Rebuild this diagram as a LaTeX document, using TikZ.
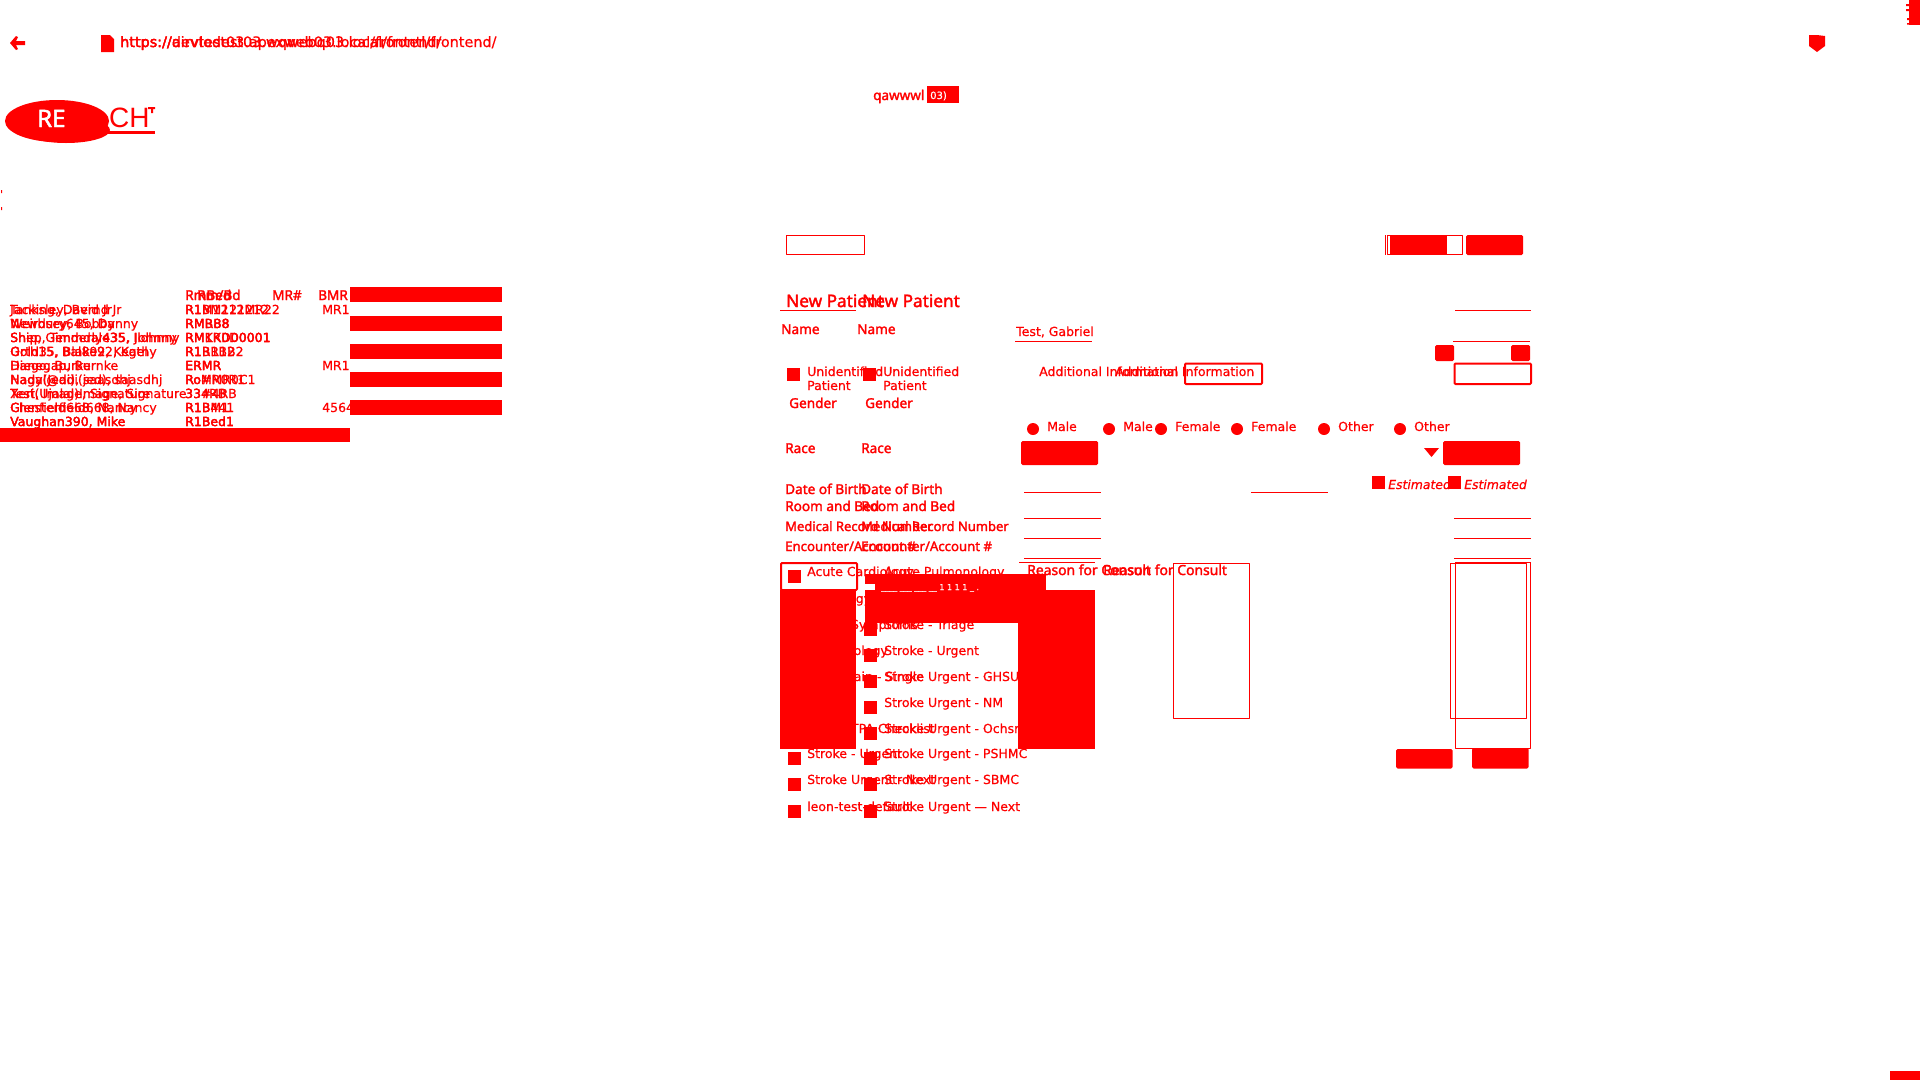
\documentclass[tikz,border=0pt]{standalone}
\usepackage{fontspec}
\setmainfont{DejaVu Sans}[FakeBold=0.7]
\newfontfamily\boldui{Noto Sans}[FakeBold=2]
\tikzset{
  txt/.style={anchor=base west,inner sep=0pt,text=red,font=\fontsize{12.5}{14}\selectfont},
  bld/.style={anchor=base west,inner sep=0pt,text=red,font=\fontsize{13.6}{15}\boldui},
  rule/.style={draw=red,line width=1pt},
  boxln/.style={draw=red,line width=1pt,fill=none},
  boxth/.style={draw=red,line width=2pt,fill=none,rounded corners=1pt},
  btn/.style={fill=red,rounded corners=1.5pt}
}
\begin{document}
\begin{tikzpicture}[x=1pt,y=-1pt,line join=round]
    \useasboundingbox (0,0) rectangle (1920,1080);
    \fill[red] (25,41)--(16,41)--(18,37)--(16,36)--(10,43)--(16,50)--(18,49)--(16,45)--(25,45)--cycle;
    \fill[red] (101,35)--(110,35)--(114,39)--(114,52)--(101,52)--cycle;
    \node[txt,font=\fontsize{14.4}{16}\selectfont] (urla) at (120,47) {https://devtest03.apexweb03.local/frontend/};
    \node[txt,font=\fontsize{14.4}{16}\selectfont] (urlb) at (120,47) {https://airvlodest03.wqwebq03.local/frontl/frontend/};
    \fill[red] (1809,35)--(1817,35)--(1825,36)--(1825,46)--(1817,52)--(1809,46)--cycle;
    \fill[red] (1909,0) rectangle (1920,25);
    \fill[red] (1906,4) rectangle (1909,6) (1906,9) rectangle (1909,11) (1907,18) rectangle (1909,20) (1907,23) rectangle (1909,24.5);
    \fill[red] (1890,1071) rectangle (1920,1080);
    \fill[red] (1,190) rectangle (2,193) (1,207) rectangle (2,210);
    \node[bld,font=\fontsize{13.5}{15}\boldui] (appname) at (873,100) {qawwwl};
    \fill[red] (927,86) rectangle (959,103);
    \node[txt,text=white,font=\fontsize{10}{12}\selectfont] (appver) at (930,99) {03)};
    \fill[red] (57,121) ellipse (52 and 21);
    \fill[red] (66,130) ellipse (44 and 13);
    \node[bld,text=white,font=\fontsize{24}{26}\boldui] (logore) at (37,127) {RE};
    \node[txt,font=\fontsize{28}{30}\fontspec{Liberation Sans}] (logoch) at (109,127) {CH};
    \fill[red] (148,107) rectangle (155,109) (151,107) rectangle (153,113);
    \fill[red] (85,131) rectangle (155,133.5);
    \foreach \y/\na/\nb/\ra/\rb in {
      314/{Jacking, David Jr}/{Tanksley, Bernd Jr}/{R1BM121212}/{R1M1212MR22},
      328/{Newbury645, Danny}/{Weirdsey, Bobby}/{RMR88}/{RMBB8},
      342/{Shep, Tenderly435, Johnny}/{Ship, Gimmdale35, Ilohnny}/{RM1R0D0001}/{RMKKD00001},
      356/{Gold35, Blake92, Kathy}/{Orth15, Bal892, Kegel}/{R1BR1B2}/{R1R1B2},
      370/{Diego, Burke}/{Hanegap, Burnke}/{ERMR}/{ERMR},
      384/{Nagy(Jedi), saasdhj}/{Hadal@adi(jed), saasdhj}/{RoMR0R1}/{Ro\#MR0C1},
      398/{Test, Image, Signature}/{Xeri(Ujalal)Image, Signature}/{334RB}/{33\#4RB},
      412/{Chesterfield668, Nancy}/{Glenfield668, Nancy}/{R1BM1}/{R1B441},
      426/{Vaughan390, Mike}/{Vaughan390, Mike}/{R1Bed1}/{R1Bed1}}{
      \node[txt] (na\y) at (10,\y) {\na};
      \node[txt] (nb\y) at (10,\y) {\nb};
      \node[txt] (ra\y) at (185,\y) {\ra};
      \node[txt] (rb\y) at (185,\y) {\rb};
    }
    \node[bld] (rma) at (185,300) {RmBed};
    \node[bld] (rmb) at (197,300) {Rm/Bd};
    \node[bld] (mra) at (272,300) {MR\#};
    \node[bld] (mrb) at (318,300) {BMR};
    \node[txt] (mra1) at (322,314) {MR1};
    \node[txt] (mra2) at (322,370) {MR1};
    \node[txt] (num1) at (322,412) {4564};
    \foreach \y in {287,316,344,372,400}
      \fill[red] (350,\y) rectangle (502,\y+14.5);
    \fill[red] (0,428) rectangle (350,442);
    \draw[boxln] (786.5,235.5) rectangle (864,254.5);
    \draw[boxln] (1387,235.5) rectangle (1462.5,254.5);
    \fill[red] (1390,235) rectangle (1447,255);
    \fill[red] (1385,235) rectangle (1386,255);
    \fill[btn] (1466,235) rectangle (1523,255);
    \foreach \o in {0,76}{
      \node[bld,font=\fontsize{17.2}{19}\boldui] (newpat\o) at (786+\o,307) {New Patient};
      \node[bld] (name\o) at (781+\o,334) {Name};
      \node[bld] (gender\o) at (789+\o,408) {Gender};
      \node[bld] (race\o) at (785+\o,453) {Race};
      \node[bld] (dob\o) at (785+\o,494) {Date of Birth};
      \node[bld] (room\o) at (785+\o,511) {Room and Bed};
      \node[bld,font=\fontsize{13}{15}\boldui] (mrn\o) at (785+\o,531) {Medical Record Number};
      \node[bld,font=\fontsize{13.2}{15}\boldui] (enc\o) at (785+\o,551) {Encounter/Account \#};
      \fill[red] (787+\o,368) rectangle (800+\o,381);
      \node[txt] (unid\o) at (807+\o,376) {Unidentified};
      \node[txt] (unpa\o) at (807+\o,390) {Patient};
      \node[txt] (addl\o) at (1039+\o,376) {Additional Information};
      \node[bld,font=\fontsize{13.9}{15}\boldui] (reason\o) at (1027+\o,575) {Reason for Consult};
      \fill[red] (1372+\o,476) rectangle (1385+\o,489);
      \node[txt,font=\fontsize{12.4}{14}\selectfont\itshape] (est\o) at (1388+\o,489) {Estimated};
      \fill[btn] (1435+\o,345) rectangle (1454+\o,361);
      \fill[red] (1033+\o,429) circle (6);
      \fill[red] (1161+\o,429) circle (6);
      \fill[red] (1324+\o,429) circle (6);
      \node[txt] (male\o) at (1047+\o,431) {Male};
      \node[txt] (fem\o) at (1175+\o,431) {Female};
      \node[txt] (oth\o) at (1338+\o,431) {Other};
    }
    \draw[rule] (780,310)--(856,310) (1015,341)--(1092,341);
    \node[txt] (testname) at (1016,336) {Test, Gabriel};
    \draw[boxth] (1185,363.5) rectangle (1262,384);
    \draw[boxth] (1454.5,363.5) rectangle (1531,384);
    \draw[rule] (1455,310)--(1531,310) (1453,341)--(1530,341);
    \fill[btn] (1021,441) rectangle (1098,465);
    \fill[btn] (1443,441) rectangle (1520,465);
    \fill[red] (1424,448)--(1439,448)--(1431.5,457)--cycle;
    \foreach \y in {492,518,538,558}
      \draw[rule] (1024,\y)--(1101,\y);
    \draw[rule] (1251,492)--(1328,492);
    \foreach \y in {518,538,558}
      \draw[rule] (1454,\y)--(1531,\y);
    \foreach \y/\ta/\tb in {
      576/{Acute Cardiology}/{Acute Pulmonology},
      603/{Neurology Survey}/{},
      629/{Stroke Symptoms}/{Stroke - Triage},
      655/{Pulmonology}/{Stroke - Urgent},
      681/{Chest Pain - Single}/{Stroke Urgent - GHSU},
      707/{}/{Stroke Urgent - NM},
      733/{Stroke TPA Checklist}/{Stroke Urgent - Ochsner},
      758/{Stroke - Urgent}/{Stroke Urgent - PSHMC},
      784/{Stroke Urgent - Next}/{Stroke Urgent - SBMC},
      811/{leon-test-default}/{Stroke Urgent --- Next}}{
      \node[txt] (ca\y) at (807,\y) {\ta};
      \node[txt] (cb\y) at (884,\y) {\tb};
    }
    \foreach \y in {576,758,784,811}
      \fill[red] (788,\y-6) rectangle (801,\y+7);
    \foreach \y in {629,655,681,707,733,758,784,811}
      \fill[red] (864,\y-6) rectangle (877,\y+7);
    \fill[red] (865,574) rectangle (876,584);
    \draw[boxth] (781,563) rectangle (857,590);
    \fill[red] (780,590) rectangle (856,749);
    \fill[red] (1018,590) rectangle (1095,749);
    \draw[red,line width=1.6pt] (1019,562.5)--(1095,562.5);
    \fill[red] (875,574) rectangle (1046,590);
    \fill[red] (865,590) rectangle (1018,623);
    \node[txt,text=white,font=\fontsize{8}{10}\selectfont] (hinttext) at (881,590) {\_\_\_\_ \_\_\_ \_\_\_ \_\_ 1 1 1 1 \_ .};
    \draw[boxln] (1173.5,563.5) rectangle (1249,718);
    \draw[boxln] (1450.5,563.5) rectangle (1526.5,718);
    \draw[boxln] (1455,562.5) rectangle (1530.5,748);
    \draw[red,line width=1.6pt] (1455,562.5)--(1530.5,562.5);
    \fill[btn] (1396,749) rectangle (1452.5,768.5);
    \fill[btn] (1472,748) rectangle (1528.5,768.5);
\end{tikzpicture}
\end{document}
